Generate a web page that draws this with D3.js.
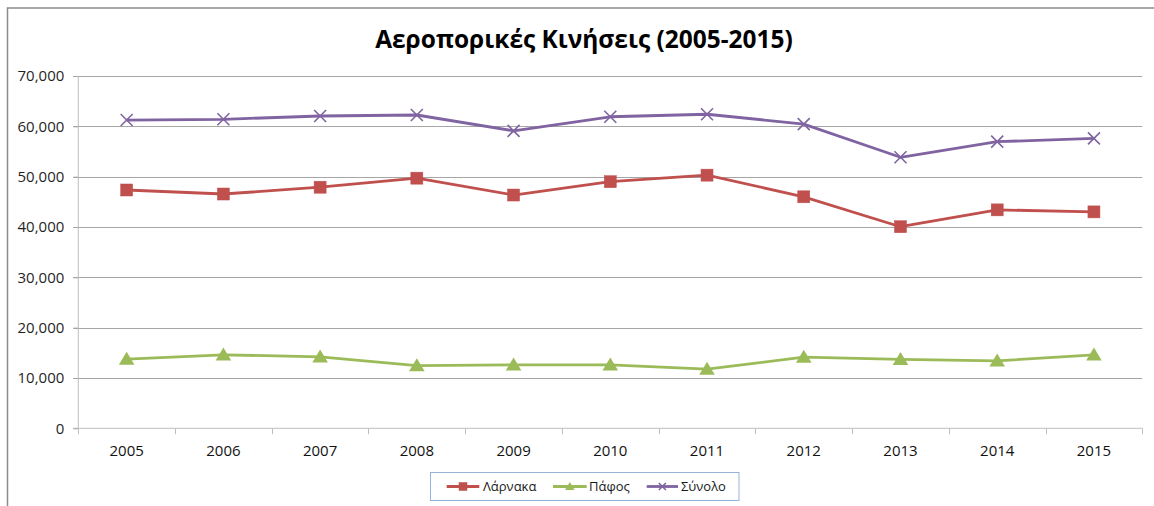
<!DOCTYPE html>
<html>
<head>
<meta charset="utf-8">
<script src="https://cdn.jsdelivr.net/npm/d3@7"></script>
<style>
  html, body { margin: 0; padding: 0; background: #fff; }
  svg { display: block; }
  text { font-family: "Open Sans", "Noto Sans", sans-serif; }
</style>
</head>
<body>
<svg id="chart" width="1154" height="506"></svg>
<script>
const years = ["2005","2006","2007","2008","2009","2010","2011","2012","2013","2014","2015"];
const larnaka = [47350, 46550, 47900, 49700, 46350, 49000, 50300, 46000, 40050, 43400, 43000];
const pafos    = [13750, 14600, 14200, 12450, 12600, 12600, 11750, 14150, 13700, 13400, 14600];
const synolo   = [61250, 61400, 62050, 62250, 59100, 61900, 62400, 60450, 53850, 56950, 57600];
const yTicks = [0, 10000, 20000, 30000, 40000, 50000, 60000, 70000];
const titleText = "Αεροπορικές Κινήσεις (2005-2015)";
const seriesNames = ["Λάρνακα", "Πάφος", "Σύνολο"];

const colors = { "Λάρνακα": "#C0504D", "Πάφος": "#9BBB59", "Σύνολο": "#8064A2" };
const series = [
  { name: seriesNames[0], values: larnaka, marker: "square" },
  { name: seriesNames[1], values: pafos, marker: "triangle" },
  { name: seriesNames[2], values: synolo, marker: "x" }
];

const svg = d3.select("#chart");
const W = 1154, H = 506;
const pLeft = 78.3, pRight = 1142.3, pTop = 76, pBottom = 428.3;

// outer frame (left & top visible)
svg.append("path").attr("d", `M7.5,${H} L7.5,8 L${W},8`).attr("fill","none")
  .attr("stroke","#8c8c8c").attr("stroke-width",1.5);

const x = d3.scaleBand().domain(years).range([pLeft, pRight]).padding(0);
const y = d3.scaleLinear().domain([0, 70000]).range([pBottom, pTop]);

// gridlines
svg.append("g").selectAll("line").data(yTicks.filter(d => d > 0)).join("line")
  .attr("x1", pLeft - 5).attr("x2", pRight)
  .attr("y1", d => Math.round(y(d)) + 0.5).attr("y2", d => Math.round(y(d)) + 0.5)
  .attr("stroke", "#a6a6a6").attr("stroke-width", 1);

// y axis
const yAxis = d3.axisLeft(y).tickValues(yTicks).tickSize(5).tickPadding(9)
  .tickFormat(d3.format(","));
const gy = svg.append("g").attr("transform", `translate(${pLeft},0)`).call(yAxis);
gy.select(".domain").attr("stroke", "#bfbfbf").attr("d", `M-5,${pBottom}H0V${pTop}`);
gy.selectAll(".tick line").attr("stroke", "#a6a6a6");
gy.selectAll(".tick text").attr("font-size", 15).attr("fill", "#1f1f1f")
  .attr("font-family", "'Open Sans', sans-serif");

// x axis
const xAxis = d3.axisBottom(x).tickSize(0).tickPadding(17);
const gx = svg.append("g").attr("transform", `translate(0,${pBottom})`).call(xAxis);
gx.select(".domain").attr("stroke", "#bfbfbf").attr("d", `M${pLeft},0H${pRight}`);
gx.selectAll(".tick text").attr("font-size", 15).attr("fill", "#111")
  .attr("font-family", "'Open Sans', sans-serif");
// x tick marks at band boundaries
const boundaries = years.map(d => x(d)).concat([pRight]);
svg.append("g").selectAll("line").data(boundaries).join("line")
  .attr("x1", d => Math.round(d) + 0.5).attr("x2", d => Math.round(d) + 0.5)
  .attr("y1", pBottom).attr("y2", pBottom + 6)
  .attr("stroke", "#bfbfbf").attr("stroke-width", 1);

const cx = d => x(d) + x.bandwidth() / 2;
const line = d3.line().x((d, i) => cx(years[i])).y(d => y(d));

function drawMarker(g, type, px, py, color, s) {
  if (type === "square") {
    g.append("rect").attr("x", px - s/2).attr("y", py - s/2).attr("width", s).attr("height", s)
      .attr("fill", color).attr("stroke", color).attr("stroke-width", 0.5);
  } else if (type === "triangle") {
    const h = s * 0.95;
    g.append("path").attr("d", `M${px},${py - h*0.6} L${px + s*0.6},${py + h*0.45} L${px - s*0.6},${py + h*0.45} Z`)
      .attr("fill", color);
  } else {
    const r = s / 2;
    g.append("path").attr("d", `M${px-r},${py-r} L${px+r},${py+r} M${px-r},${py+r} L${px+r},${py-r}`)
      .attr("stroke", color).attr("stroke-width", 1.6).attr("fill", "none");
  }
}

series.forEach(s => {
  const g = svg.append("g");
  g.append("path").datum(s.values).attr("d", line).attr("fill", "none")
    .attr("stroke", colors[s.name]).attr("stroke-width", 2.8).attr("stroke-linejoin", "round");
  s.values.forEach((v, i) => {
    drawMarker(g, s.marker, cx(years[i]), y(v), colors[s.name], s.marker === "square" ? 12 : (s.marker === "triangle" ? 13 : 12));
  });
});

// title
const title = svg.append("text").attr("x", 584).attr("y", 47.5).attr("text-anchor", "middle")
  .attr("font-weight", "bold").attr("font-size", 24).attr("fill", "#000")
  .attr("font-family", "'Open Sans', sans-serif").text(titleText);
const tw = title.node().getComputedTextLength();
title.attr("font-size", 24 * 418 / tw);

// legend
const lg = svg.append("g");
lg.append("rect").attr("x", 430.5).attr("y", 472.5).attr("width", 308.5).attr("height", 28)
  .attr("fill", "#fff").attr("stroke", "#95B3D7").attr("stroke-width", 1);
const legendPos = [
  { x1: 446.7, x2: 479.3, tx: 483 },
  { x1: 553, x2: 586.7, tx: 589 },
  { x1: 646.7, x2: 678, tx: 681 }
];
series.forEach((s, i) => {
  const p = legendPos[i];
  const ly = 486.5;
  lg.append("line").attr("x1", p.x1).attr("x2", p.x2).attr("y1", ly).attr("y2", ly)
    .attr("stroke", colors[s.name]).attr("stroke-width", 2.8);
  drawMarker(lg, s.marker, (p.x1 + p.x2) / 2, ly, colors[s.name], s.marker === "x" ? 7 : 8);
  lg.append("text").attr("x", p.tx).attr("y", ly).attr("dy", "0.35em")
    .attr("font-size", 13).attr("fill", "#1a1a1a").text(s.name);
});
</script>
</body>
</html>
